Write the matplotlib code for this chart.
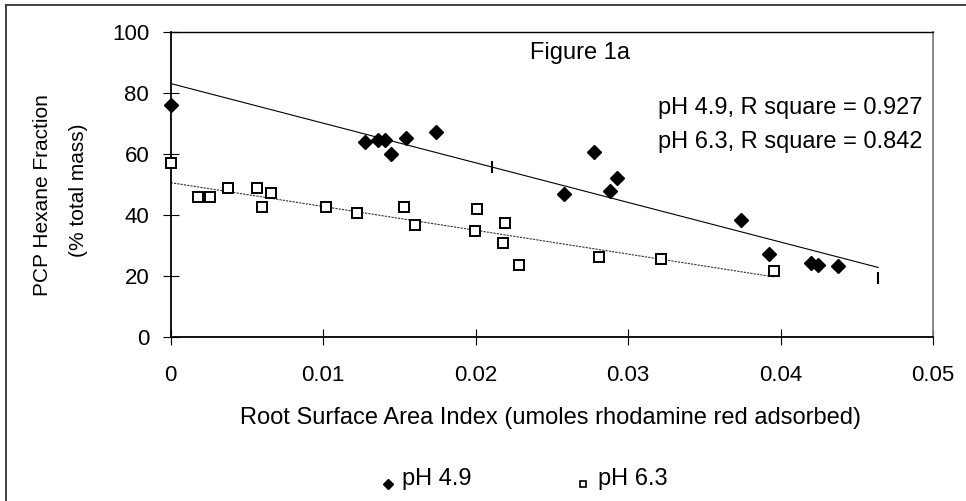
import matplotlib
matplotlib.use("Agg")
import matplotlib.pyplot as plt
from matplotlib.lines import Line2D

plt.rcParams["font.family"] = ["Liberation Sans", "DejaVu Sans"]

# pH 4.9 (filled diamonds)
x_49 = [0.0, 0.01272, 0.0136, 0.01403, 0.01442, 0.01545, 0.01741, 0.02579,
        0.02777, 0.0288, 0.0293, 0.03743, 0.03927, 0.042, 0.04247, 0.04374]
y_49 = [76.2, 63.8, 64.5, 64.5, 59.9, 65.1, 67.1, 46.8,
        60.6, 48.0, 52.1, 38.3, 27.2, 24.4, 23.6, 23.2]

# pH 6.3 (open squares)
x_63 = [0.0, 0.00177, 0.00255, 0.00375, 0.00569, 0.00598, 0.00661, 0.01017,
        0.01224, 0.01527, 0.01603, 0.01998, 0.02011, 0.02179, 0.02194, 0.02284,
        0.02809, 0.03215, 0.03959]
y_63 = [57.1, 45.8, 45.8, 49.0, 49.0, 42.6, 47.2, 42.6,
        40.6, 42.6, 36.7, 34.9, 42.0, 30.9, 37.5, 23.6,
        26.2, 25.7, 21.7]

# fitted lines (end points)
fit_x_49 = [0.0, 0.04641]
fit_y_49 = [83.1, 22.8]
fit_x_63 = [0.0, 0.03959]
fit_y_63 = [50.6, 19.7]

# small vertical bar marks
bar_x = [0.0211, 0.04641]
bar_y = [55.7, 19.3]

x_ticks = [0, 0.01, 0.02, 0.03, 0.04, 0.05]
x_tick_labels = ["0", "0.01", "0.02", "0.03", "0.04", "0.05"]
y_ticks = [0, 20, 40, 60, 80, 100]

W, H = 966, 501
fig = plt.figure(figsize=(W / 100, H / 100), dpi=100)
ax = fig.add_axes([170.7 / W, 1 - 337 / H, (933 - 170.7) / W, (337 - 32) / H])

ax.plot(fit_x_49, fit_y_49, color="black", lw=0.8, zorder=2)
ax.plot(fit_x_63, fit_y_63, color="#333333", lw=0.8, linestyle=(0, (2, 1)), zorder=2)
ax.plot(bar_x, bar_y, linestyle="none", marker="|", ms=9, mew=1.5, color="black", zorder=3)

ax.plot(x_49, y_49, linestyle="none", marker="D", ms=7.5, color="black",
        clip_on=False, zorder=4)
ax.plot(x_63, y_63, linestyle="none", marker="s", ms=7, mfc="white", mec="black",
        mew=1.4, clip_on=False, zorder=4)

ax.set_xlim(0, 0.05)
ax.set_ylim(0, 100)
ax.set_xticks(x_ticks)
ax.set_xticklabels(x_tick_labels)
ax.set_yticks(y_ticks)
ax.tick_params(axis="both", direction="inout", length=11, width=0.8,
               labelsize=16, color="black")
ax.tick_params(axis="y", pad=10)
ax.tick_params(axis="x", pad=15)

for side in ["left", "bottom", "top"]:
    ax.spines[side].set_color("black")
ax.spines["left"].set_linewidth(1.3)
ax.spines["bottom"].set_linewidth(1.3)
ax.spines["top"].set_linewidth(1.0)
ax.spines["right"].set_color("#808080")
ax.spines["right"].set_linewidth(1.3)

# texts inside plot
fig.text(580 / W, 1 - 52.7 / H, "Figure 1a", fontsize=17, ha="center", va="center")
fig.text(922 / W, 1 - 108 / H, "pH 4.9, R square = 0.927", fontsize=17,
         ha="right", va="center")
fig.text(922 / W, 1 - 142 / H, "pH 6.3, R square = 0.842", fontsize=17,
         ha="right", va="center")

# axis titles
fig.text(551 / W, 1 - 418 / H,
         "Root Surface Area Index (umoles rhodamine red adsorbed)",
         fontsize=17, ha="center", va="center")
fig.text(43 / W, 1 - 195 / H, "PCP Hexane Fraction", fontsize=15,
         rotation=90, ha="center", va="center")
fig.text(78 / W, 1 - 190 / H, "(% total mass)", fontsize=15,
         rotation=90, ha="center", va="center")

# legend
fig.add_artist(Line2D([388 / W], [1 - 484 / H], marker="D", ms=5.5, color="black",
                      linestyle="none"))
fig.text(402 / W, 1 - 479 / H, "pH 4.9", fontsize=17, ha="left", va="center")
fig.add_artist(Line2D([583 / W], [1 - 484 / H], marker="s", ms=5, mfc="white",
                      mec="black", mew=1.2, linestyle="none"))
fig.text(598 / W, 1 - 479 / H, "pH 6.3", fontsize=17, ha="left", va="center")

# outer chart frame (left and top edges visible)
fig.add_artist(Line2D([6 / W, 6 / W], [0, 1 - 5 / H], color="#333333", lw=1.3))
fig.add_artist(Line2D([6 / W, 1], [1 - 5 / H, 1 - 5 / H], color="#333333", lw=1.3))

fig.savefig("out.png", dpi=100)
